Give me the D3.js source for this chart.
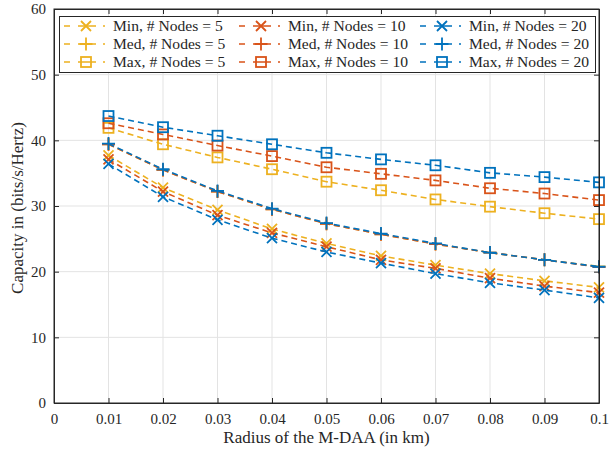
<!DOCTYPE html>
<html><head><meta charset="utf-8">
<script src="https://cdn.jsdelivr.net/npm/d3@7"></script>
<style>body{margin:0;background:#fff}svg{display:block}</style>
</head><body>
<script>
const radius = [0.01,0.02,0.03,0.04,0.05,0.06,0.07,0.08,0.09,0.1];
const min5  = [37.7,32.8,29.4,26.5,24.3,22.4,21.0,19.7,18.6,17.6];
const med5  = [39.4,35.5,32.2,29.5,27.3,25.7,24.2,22.9,21.8,20.8];
const max5  = [41.9,39.4,37.4,35.6,33.7,32.4,31.0,29.9,28.9,28.0];
const min10 = [37.1,32.2,28.6,25.9,23.8,21.8,20.5,19.0,17.8,16.8];
const med10 = [39.4,35.5,32.2,29.5,27.3,25.7,24.2,22.9,21.8,20.7];
const max10 = [42.6,40.9,39.2,37.6,35.9,34.9,33.9,32.7,31.9,30.9];
const min20 = [36.4,31.4,27.9,25.1,23.0,21.3,19.7,18.3,17.2,16.0];
const med20 = [39.5,35.6,32.3,29.6,27.4,25.8,24.3,22.9,21.8,20.75];
const max20 = [43.7,42.0,40.7,39.4,38.1,37.1,36.2,35.05,34.4,33.6];
const xTicks = [0,0.01,0.02,0.03,0.04,0.05,0.06,0.07,0.08,0.09,0.1];
const xTickLabels = ["0","0.01","0.02","0.03","0.04","0.05","0.06","0.07","0.08","0.09","0.1"];
const yTicks = [0,10,20,30,40,50,60];
const seriesNames = ["Min, # Nodes = 5","Med, # Nodes = 5","Max, # Nodes = 5",
  "Min, # Nodes = 10","Med, # Nodes = 10","Max, # Nodes = 10",
  "Min, # Nodes = 20","Med, # Nodes = 20","Max, # Nodes = 20"];
const seriesValues = [min5,med5,max5,min10,med10,max10,min20,med20,max20];
const seriesMarkers = ["x","+","s","x","+","s","x","+","s"];
const seriesColors = ["#EDB120","#EDB120","#EDB120","#D95319","#D95319","#D95319","#0072BD","#0072BD","#0072BD"];

const W=610,H=453;
const L=54,R=599,T=9,B=403;
const font="'Liberation Serif','DejaVu Serif',serif";
const svg=d3.select("body").append("svg").attr("width",W).attr("height",H);
const x=d3.scaleLinear().domain([0,0.1]).range([L,R]);
const y=d3.scaleLinear().domain([0,60]).range([B,T]);

// grid
const g=svg.append("g");
g.selectAll(".gx").data(xTicks.slice(1,-1)).join("line")
 .attr("x1",d=>x(d)).attr("x2",d=>x(d)).attr("y1",T).attr("y2",B)
 .attr("stroke","#e3e3e3").attr("stroke-width",1);
g.selectAll(".gy").data(yTicks.slice(1,-1)).join("line")
 .attr("y1",d=>y(d)).attr("y2",d=>y(d)).attr("x1",L).attr("x2",R)
 .attr("stroke","#e3e3e3").attr("stroke-width",1);

// series
function marker(sel,type,color){
  const s=5;
  if(type==="x"){
    sel.append("path").attr("d",`M${-s},${-s}L${s},${s}M${-s},${s}L${s},${-s}`)
      .attr("stroke",color).attr("stroke-width",1.8).attr("fill","none");
  } else if(type==="+"){
    const p=6.5;
    sel.append("path").attr("d",`M${-p},0L${p},0M0,${-p}L0,${p}`)
      .attr("stroke",color).attr("stroke-width",1.8).attr("fill","none");
  } else {
    const q=5;
    sel.append("rect").attr("x",-q).attr("y",-q).attr("width",2*q).attr("height",2*q)
      .attr("stroke",color).attr("stroke-width",1.8).attr("fill","none");
  }
}
const line=d3.line().x((d,i)=>x(radius[i])).y(d=>y(d));
seriesValues.forEach((vals,k)=>{
  const sg=svg.append("g");
  sg.append("path").attr("d",line(vals)).attr("fill","none")
    .attr("stroke",seriesColors[k]).attr("stroke-width",1.6).attr("stroke-dasharray","6,4");
  vals.forEach((v,i)=>{
    const mg=sg.append("g").attr("transform",`translate(${x(radius[i])},${y(v)})`);
    marker(mg,seriesMarkers[k],seriesColors[k]);
  });
});

// axes box
const ax="#262626";
svg.append("rect").attr("x",L).attr("y",T).attr("width",R-L).attr("height",B-T)
  .attr("fill","none").attr("stroke",ax).attr("stroke-width",1);
const xa=d3.axisBottom(x).tickValues(xTicks).tickFormat((d,i)=>xTickLabels[i]).tickSizeInner(-5).tickSizeOuter(0).tickPadding(10);
const xg=svg.append("g").attr("transform",`translate(0,${B})`).call(xa);
const xt=d3.axisTop(x).tickValues(xTicks).tickFormat("").tickSizeInner(-5).tickSizeOuter(0);
const xtg=svg.append("g").attr("transform",`translate(0,${T})`).call(xt);
const ya=d3.axisLeft(y).tickValues(yTicks).tickSizeInner(-5).tickSizeOuter(0).tickPadding(8);
const yg=svg.append("g").attr("transform",`translate(${L},0)`).call(ya);
const yr=d3.axisRight(y).tickValues(yTicks).tickFormat("").tickSizeInner(-5).tickSizeOuter(0);
const yrg=svg.append("g").attr("transform",`translate(${R},0)`).call(yr);
[xg,xtg,yg,yrg].forEach(a=>{
  a.select(".domain").attr("stroke",ax);
  a.selectAll(".tick line").attr("stroke",ax);
  a.selectAll("text").attr("fill",ax).style("font-family",font).style("font-size","15px");
});

// labels
svg.append("text").attr("x",(L+R)/2).attr("y",443).attr("text-anchor","middle")
  .attr("fill",ax).style("font-family",font).style("font-size","17px").text("Radius of the M-DAA (in km)");
svg.append("text").attr("transform",`translate(23,${(T+B)/2+2}) rotate(-90)`).attr("text-anchor","middle")
  .attr("fill",ax).style("font-family",font).style("font-size","17px").text("Capacity in (bits/s/Hertz)");

// legend
const lg=svg.append("g");
lg.append("rect").attr("x",59.5).attr("y",16.5).attr("width",536).attr("height",56)
  .attr("fill","#fff").attr("stroke",ax).attr("stroke-width",1);
const colX=[64,239,420];
const rowY=[26,44,62];
seriesNames.forEach((n,k)=>{
  const c=Math.floor(k/3), r=k%3;
  const x0=colX[c], yy=rowY[r];
  const eg=lg.append("g");
  eg.append("line").attr("x1",x0).attr("x2",x0+45).attr("y1",yy).attr("y2",yy)
    .attr("stroke",seriesColors[k]).attr("stroke-width",1.6).attr("stroke-dasharray","6,8,18,7,2,10");
  const mg=eg.append("g").attr("transform",`translate(${x0+22},${yy})`);
  marker(mg,seriesMarkers[k],seriesColors[k]);
  eg.append("text").attr("x",x0+49).attr("y",yy+5).attr("fill",ax)
    .style("font-family",font).style("font-size","15.6px").text(n);
});
</script>
</body></html>
